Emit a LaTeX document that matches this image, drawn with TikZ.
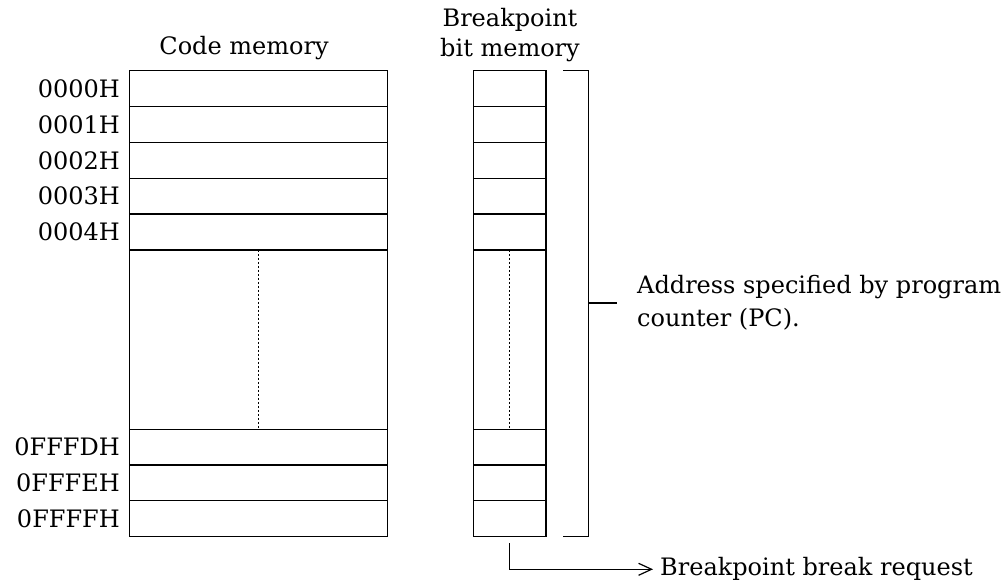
\documentclass[tikz,border=0pt]{standalone}
\usepackage{fontspec}
\setmainfont{DejaVu Serif}
\usetikzlibrary{arrows.meta}

\tikzset{
  cell/.style={draw, line width=1.2pt, inner sep=0pt, outer sep=0pt, minimum height=35.85pt},
  code/.style={cell, minimum width=258pt},
  bit/.style={cell, minimum width=72.7pt},
  addr/.style={label={[inner sep=0pt, label distance=9.5pt]left:#1}},
  gap/.style={line width=1pt, dash pattern=on 2.5pt off 1.5pt},
}

\begin{document}
\begin{tikzpicture}[x=1pt, y=-1pt, font=\fontsize{24}{30}\selectfont]
  \useasboundingbox (0,0) rectangle (1007,585);

  % code memory
  \node[code, addr=0000H]  (C0) at (258.5,88.6)  {};
  \node[code, addr=0001H]  (C1) at (258.5,124.5) {};
  \node[code, addr=0002H]  (C2) at (258.5,160.3) {};
  \node[code, addr=0003H]  (C3) at (258.5,196.2) {};
  \node[code, addr=0004H]  (C4) at (258.5,232.0) {};
  \node[code, minimum height=179.3pt] (CG) at (258.5,339.6) {};
  \node[code, addr=0FFFDH] (C5) at (258.5,447.1) {};
  \node[code, addr=0FFFEH] (C6) at (258.5,482.9) {};
  \node[code, addr=0FFFFH] (C7) at (258.5,518.8) {};

  % breakpoint bit memory
  \node[bit] (B0) at (509.7,88.6)  {};
  \node[bit] (B1) at (509.7,124.5) {};
  \node[bit] (B2) at (509.7,160.3) {};
  \node[bit] (B3) at (509.7,196.2) {};
  \node[bit] (B4) at (509.7,232.0) {};
  \node[bit, minimum height=179.3pt] (BG) at (509.7,339.6) {};
  \node[bit] (B5) at (509.7,447.1) {};
  \node[bit] (B6) at (509.7,482.9) {};
  \node[bit] (B7) at (509.7,518.8) {};

  \draw[gap] (CG.north) -- (CG.south);
  \draw[gap] (BG.north) -- (BG.south);

  % titles
  \node[anchor=base] (codetitle) at (244,55) {Code memory};
  \node[anchor=base, align=center] (bittitle) at (510,57) {Breakpoint\\bit memory};

  % bracket and its label
  \draw[line width=1.2pt] ([xshift=17pt]B0.north east) -| ([xshift=42.3pt]B7.south east)
    -- ([xshift=17pt]B7.south east);
  \coordinate (brk) at (588.3,303);
  \node[anchor=west, inner xsep=20pt, align=left] (pc) at (617,303)
    {Address specified by program\\[3pt]counter (PC).};
  \draw[line width=1.2pt] (brk) -- (pc.west);

  % break request
  \node[anchor=west, inner xsep=7pt] (req) at (653,569.3) {Breakpoint break request};
  \draw[line width=1.2pt, -{Straight Barb[length=13pt, width=12pt]}, shorten <=6.3pt]
    (B7.south) |- (req.west);
\end{tikzpicture}
\end{document}
